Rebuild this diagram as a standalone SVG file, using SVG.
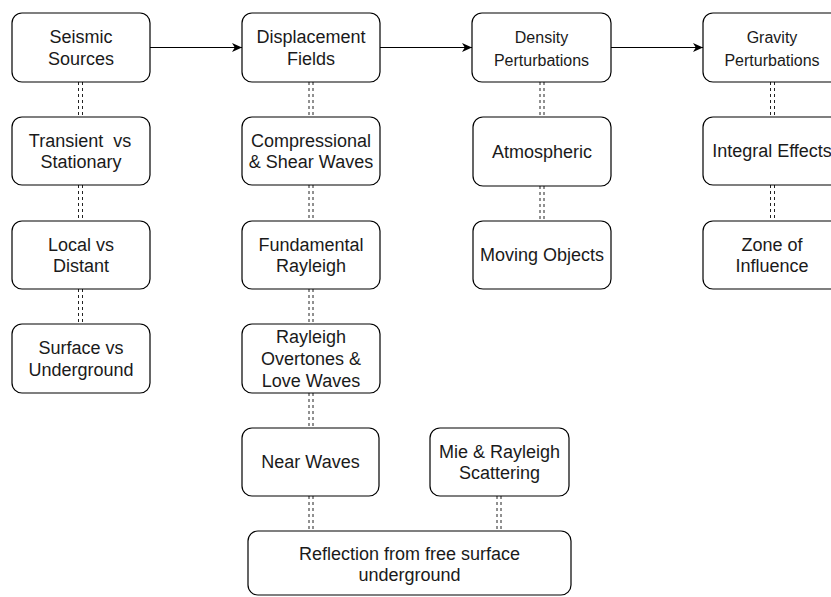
<svg xmlns="http://www.w3.org/2000/svg" width="831" height="597" viewBox="0 0 831 597">
<defs>
<style>
.box{fill:#fff;stroke:#000;stroke-width:1.2}
.t{font-family:"Liberation Sans",Arial,Helvetica,sans-serif;font-size:18px;fill:#1a1a1a;text-anchor:middle;white-space:pre}
.s{font-size:16px}
.lk{stroke:#222;stroke-width:1;stroke-dasharray:3 3;fill:none}
.ar{stroke:#000;stroke-width:1.2;fill:none}
</style>
<marker id="ah" markerWidth="11" markerHeight="11" viewBox="0 0 11 11" refX="10" refY="5.5" orient="auto" markerUnits="userSpaceOnUse">
<path d="M0,1 L10,5.5 L0,10 L2.8,5.5 z" fill="#000"/>
</marker>
</defs>
<rect width="831" height="597" fill="#fff"/>
<g id="connectors">
<line class="ar" x1="150" y1="47.5" x2="242" y2="47.5" marker-end="url(#ah)"/>
<line class="ar" x1="380" y1="47.5" x2="472" y2="47.5" marker-end="url(#ah)"/>
<line class="ar" x1="611" y1="47.5" x2="703" y2="47.5" marker-end="url(#ah)"/>
<g id="links">
<path class="lk" d="M78.5,82V117M82.5,82V117M78.5,185V221M82.5,185V221M78.5,289V324M82.5,289V324"/>
<path class="lk" d="M309,82V117M313,82V117M309,185V221M313,185V221M309,289V324M313,289V324M309,393V428M313,393V428M309,496V531M313,496V531"/>
<path class="lk" d="M540,82V117M544,82V117M540,186V221M544,186V221"/>
<path class="lk" d="M770.5,82V117M774.5,82V117M770.5,185V221M774.5,185V221"/>
<path class="lk" d="M497,496V531M501,496V531"/>
</g>
</g>
<g id="seismic"><rect class="box" x="12" y="13" width="138" height="69" rx="10"/><text class="t" x="81" y="43">Seismic</text><text class="t" x="81" y="64.6">Sources</text></g>
<g id="transient"><rect class="box" x="12" y="117" width="138" height="68" rx="10"/><text class="t" x="80" y="146.6">Transient  vs</text><text class="t" x="81" y="168.2">Stationary</text></g>
<g id="local"><rect class="box" x="12" y="221" width="138" height="68" rx="10"/><text class="t" x="81" y="250.6">Local vs</text><text class="t" x="81" y="272.2">Distant</text></g>
<g id="surface"><rect class="box" x="12" y="324" width="138" height="69" rx="10"/><text class="t" x="81" y="354">Surface vs</text><text class="t" x="81" y="375.6">Underground</text></g>
<g id="displacement"><rect class="box" x="242" y="13" width="138" height="69" rx="10"/><text class="t" x="311" y="43">Displacement</text><text class="t" x="311" y="64.6">Fields</text></g>
<g id="compressional"><rect class="box" x="242" y="117" width="138" height="68" rx="10"/><text class="t" x="311" y="146.6">Compressional</text><text class="t" x="311" y="168.2">&amp; Shear Waves</text></g>
<g id="fundamental"><rect class="box" x="242" y="221" width="138" height="68" rx="10"/><text class="t" x="311" y="250.6">Fundamental</text><text class="t" x="311" y="272.2">Rayleigh</text></g>
<g id="overtones"><rect class="box" x="242" y="324" width="138" height="69" rx="10"/><text class="t" x="311" y="343.3">Rayleigh</text><text class="t" x="311" y="364.9">Overtones &amp;</text><text class="t" x="311" y="386.5">Love Waves</text></g>
<g id="near"><rect class="box" x="242" y="428" width="137" height="68" rx="10"/><text class="t" x="310.5" y="468.4">Near Waves</text></g>
<g id="mie"><rect class="box" x="430" y="428" width="139" height="68" rx="10"/><text class="t" x="499.5" y="457.6">Mie &amp; Rayleigh</text><text class="t" x="499.5" y="479.2">Scattering</text></g>
<g id="reflection"><rect class="box" x="248" y="531" width="323" height="64" rx="10"/><text class="t" x="409.5" y="559.6">Reflection from free surface</text><text class="t" x="409.5" y="581.2">underground</text></g>
<g id="density"><rect class="box" x="472" y="13" width="139" height="69" rx="10"/><text class="t s" x="541.5" y="43">Density</text><text class="t s" x="541.5" y="65.5">Perturbations</text></g>
<g id="atmospheric"><rect class="box" x="473" y="117" width="138" height="69" rx="10"/><text class="t" x="542" y="157.9">Atmospheric</text></g>
<g id="moving"><rect class="box" x="473" y="221" width="138" height="68" rx="10"/><text class="t" x="542" y="261.4">Moving Objects</text></g>
<g id="gravity"><rect class="box" x="703" y="13" width="138" height="69" rx="10"/><text class="t s" x="772" y="43">Gravity</text><text class="t s" x="772" y="65.5">Perturbations</text></g>
<g id="integral"><rect class="box" x="703" y="117" width="138" height="68" rx="10"/><text class="t" x="772" y="157.4">Integral Effects</text></g>
<g id="zone"><rect class="box" x="703" y="221" width="138" height="68" rx="10"/><text class="t" x="772" y="250.6">Zone of</text><text class="t" x="772" y="272.2">Influence</text></g>
</svg>
